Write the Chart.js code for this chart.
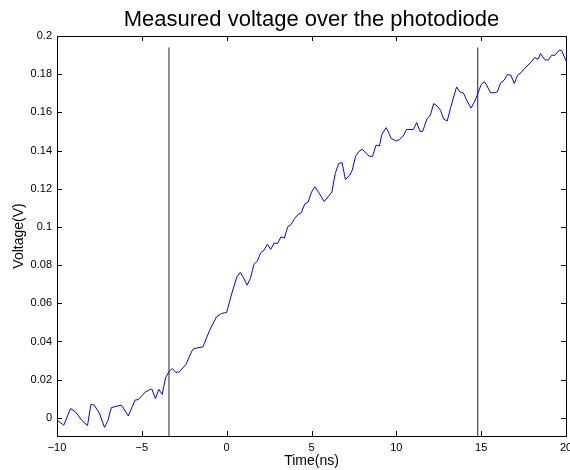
<!DOCTYPE html>
<html>
<head>
<meta charset="utf-8">
<script src="https://cdn.jsdelivr.net/npm/chart.js@4/dist/chart.umd.min.js"></script>
<style>
  html, body { margin: 0; padding: 0; background: #fff; overflow: hidden; }
  #wrap { width: 580px; height: 470px; }
</style>
</head>
<body>
<div id="wrap"><canvas id="voltChart" width="580" height="470"></canvas></div>
<script>
// time axis (ns) and measured voltage (V)
const timeNs = [
  -10.0, -9.6, -9.2, -8.9, -8.55, -8.2, -8.0, -7.8, -7.5, -7.2,
  -7.0, -6.8, -6.5, -6.2, -5.8, -5.4, -5.2, -4.8, -4.5, -4.4,
  -4.2, -4.0, -3.8, -3.6, -3.4, -3.2, -3.0, -2.8, -2.4, -2.2,
  -2.0, -1.8, -1.4, -1.0, -0.6, -0.3, 0.0, 0.3, 0.6, 0.8,
  1.0, 1.2, 1.4, 1.6, 1.8, 2.0, 2.2, 2.4, 2.6, 2.8,
  3.0, 3.2, 3.4, 3.6, 3.8, 4.0, 4.2, 4.4, 4.6, 4.8,
  5.0, 5.2, 5.45, 5.75, 6.0, 6.2, 6.4, 6.6, 6.8, 7.0,
  7.25, 7.4, 7.6, 7.8, 8.0, 8.2, 8.4, 8.6, 8.8, 9.0,
  9.15, 9.4, 9.5, 9.7, 10.0, 10.2, 10.4, 10.6, 10.8, 11.0,
  11.2, 11.4, 11.55, 11.8, 12.0, 12.2, 12.4, 12.6, 12.8, 13.0,
  13.2, 13.55, 13.75, 13.95, 14.15, 14.4, 14.6, 14.8, 15.0, 15.2,
  15.35, 15.55, 15.75, 15.95, 16.15, 16.35, 16.55, 16.75, 16.95, 17.15,
  17.35, 17.55, 17.75, 17.95, 18.15, 18.35, 18.5, 18.75, 18.95, 19.15,
  19.35, 19.6, 19.75, 20.0
];
const voltage = [
  -0.0012, -0.0038, 0.0049, 0.0031, -0.0012, -0.0040, 0.0071, 0.0066, 0.0025, -0.0050,
  -0.0014, 0.0053, 0.0061, 0.0066, 0.0010, 0.0093, 0.0096, 0.0135, 0.0149, 0.0150,
  0.0101, 0.0149, 0.0123, 0.0210, 0.0242, 0.0259, 0.0238, 0.0240, 0.0279, 0.0320,
  0.0359, 0.0365, 0.0372, 0.0459, 0.0529, 0.0547, 0.0552, 0.0651, 0.0738, 0.0761,
  0.0733, 0.0695, 0.0730, 0.0803, 0.0820, 0.0864, 0.0878, 0.0909, 0.0883, 0.0916,
  0.0913, 0.0948, 0.0942, 0.1000, 0.1013, 0.1044, 0.1065, 0.1074, 0.1120, 0.1130,
  0.1183, 0.1210, 0.1177, 0.1133, 0.1160, 0.1183, 0.1280, 0.1332, 0.1337, 0.1248,
  0.1271, 0.1297, 0.1370, 0.1396, 0.1407, 0.1387, 0.1370, 0.1370, 0.1428, 0.1424,
  0.1485, 0.1520, 0.1503, 0.1463, 0.1450, 0.1458, 0.1476, 0.1510, 0.1510, 0.1510,
  0.1547, 0.1500, 0.1500, 0.1565, 0.1585, 0.1646, 0.1634, 0.1611, 0.1564, 0.1555,
  0.1625, 0.1733, 0.1707, 0.1702, 0.1663, 0.1623, 0.1654, 0.1698, 0.1746, 0.1760,
  0.1738, 0.1704, 0.1702, 0.1707, 0.1756, 0.1768, 0.1798, 0.1795, 0.1751, 0.1795,
  0.1808, 0.1829, 0.1847, 0.1864, 0.1887, 0.1878, 0.1908, 0.1876, 0.1873, 0.1899,
  0.1899, 0.1926, 0.1923, 0.1870
];

// the two vertical marker lines
const markerTimes = [-3.4, 14.8];
const markerSpan = [-0.0095, 0.194];

// axis settings
const xTicks = [-10, -5, 0, 5, 10, 15, 20];
const yTicks = [0, 0.02, 0.04, 0.06, 0.08, 0.1, 0.12, 0.14, 0.16, 0.18, 0.2];
const xRange = [-10, 20];
const yRange = [-0.0095, 0.2];

const FONT = '"Liberation Sans", Arial, Helvetica, sans-serif';
Chart.defaults.color = '#000';
Chart.defaults.font.family = FONT;

// MATLAB style box with inward tick marks on all four sides
const matlabBox = {
  id: 'matlabBox',
  afterDraw(chart) {
    const { ctx, chartArea: a, scales } = chart;
    const len = 5;
    ctx.save();
    ctx.strokeStyle = '#000';
    ctx.lineWidth = 1;
    ctx.beginPath();
    xTicks.forEach(t => {
      const px = Math.round(scales.x.getPixelForValue(t)) + 0.5;
      ctx.moveTo(px, a.bottom); ctx.lineTo(px, a.bottom - len);
      ctx.moveTo(px, a.top); ctx.lineTo(px, a.top + len);
    });
    yTicks.forEach(t => {
      const py = Math.round(scales.y.getPixelForValue(t)) + 0.5;
      ctx.moveTo(a.left, py); ctx.lineTo(a.left + len, py);
      ctx.moveTo(a.right, py); ctx.lineTo(a.right - len, py);
    });
    ctx.stroke();
    ctx.strokeRect(Math.round(a.left) + 0.5, Math.round(a.top) + 0.5,
      Math.round(a.right - a.left), Math.round(a.bottom - a.top));
    ctx.restore();
  }
};

const markerSets = markerTimes.map(t => ({
  data: markerSpan.map(v => ({ x: t, y: v })),
  borderColor: '#222',
  borderWidth: 1,
  pointRadius: 0
}));

new Chart(document.getElementById('voltChart').getContext('2d'), {
  type: 'line',
  data: {
    datasets: [
      {
        data: timeNs.map((t, i) => ({ x: t, y: voltage[i] })),
        borderColor: '#0000ff',
        borderWidth: 1,
        pointRadius: 0,
        tension: 0
      },
      ...markerSets
    ]
  },
  options: {
    responsive: false,
    animation: false,
    events: [],
    layout: { padding: { left: 0, right: 14, top: 0, bottom: 0 } },
    plugins: {
      legend: { display: false },
      tooltip: { enabled: false },
      title: {
        display: true,
        fullSize: false,
        text: 'Measured voltage over the photodiode',
        font: { size: 22, weight: 'normal', family: FONT },
        padding: { top: 7, bottom: 2.6 }
      }
    },
    scales: {
      x: {
        type: 'linear',
        min: xRange[0],
        max: xRange[1],
        afterBuildTicks(scale) { scale.ticks = xTicks.map(v => ({ value: v })); },
        afterFit(scale) { scale.height = 34; },
        grid: { display: false, drawTicks: false },
        border: { display: false },
        ticks: {
          padding: 5,
          maxRotation: 0,
          font: { size: 11 },
          callback: v => String(v).replace('-', '\u2212')
        },
        title: { display: true, text: 'Time(ns)', font: { size: 14 }, padding: { top: 2, bottom: 0 } }
      },
      y: {
        min: yRange[0],
        max: yRange[1],
        afterBuildTicks(scale) { scale.ticks = yTicks.map(v => ({ value: v })); },
        afterFit(scale) { scale.width = 57; },
        grid: { display: false, drawTicks: false },
        border: { display: false },
        ticks: {
          padding: 5,
          font: { size: 11 },
          callback: v => String(Number(v.toFixed(2)))
        },
        title: { display: true, text: 'Voltage(V)', font: { size: 14 }, padding: { top: 11, bottom: 0 } }
      }
    }
  },
  plugins: [matlabBox]
});
</script>
</body>
</html>
